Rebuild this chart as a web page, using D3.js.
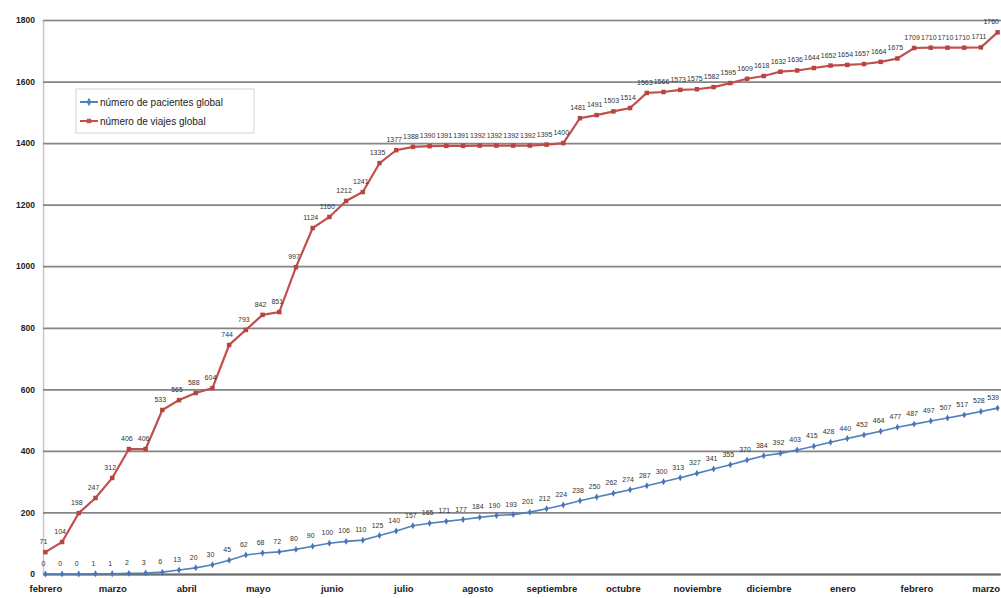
<!DOCTYPE html>
<html>
<head>
<meta charset="utf-8">
<script src="https://cdn.jsdelivr.net/npm/d3@7"></script>
<style>
  body { margin: 0; background: #fff; }
  svg { display: block; }
  text { font-family: "Liberation Sans", Arial, sans-serif; }
</style>
</head>
<body>
<svg id="chart" width="1001" height="598"></svg>
<script>
// Weekly totals, first week starting 1 Feb 2007
const firstWeek = "2007-02-01";
const monthLabels = ["febrero", "marzo", "abril", "mayo", "junio", "julio", "agosto",
  "septiembre", "octubre", "noviembre", "diciembre", "enero", "febrero", "marzo"];
const yTicks = [0, 200, 400, 600, 800, 1000, 1200, 1400, 1600, 1800];
const seriesNames = ["número de pacientes global", "número de viajes global"];

const pacientes = [0, 0, 0, 1, 1, 2, 3, 6, 13, 20, 30, 45, 62, 68, 72, 80, 90, 100, 106, 110,
  125, 140, 157, 165, 171, 177, 184, 190, 193, 201, 212, 224, 238, 250, 262, 274, 287, 300,
  313, 327, 341, 355, 370, 384, 392, 403, 415, 428, 440, 452, 464, 477, 487, 497, 507, 517,
  528, 539];

const viajes = [71, 104, 198, 247, 312, 406, 406, 533, 565, 588, 604, 744, 793, 842, 851,
  997, 1124, 1160, 1212, 1241, 1335, 1377, 1388, 1390, 1391, 1391, 1392, 1392, 1392, 1392,
  1395, 1400, 1481, 1491, 1503, 1514, 1563, 1566, 1573, 1575, 1582, 1595, 1609, 1618, 1632,
  1636, 1644, 1652, 1654, 1657, 1664, 1675, 1709, 1710, 1710, 1710, 1711, 1760];

const colors = ["#4f81bd", "#c0504d"];

const W = 1001;
const svg = d3.select("#chart");
const plot = { left: 43, right: 1000, top: 20, bottom: 574 };

const start = d3.timeParse("%Y-%m-%d")(firstWeek);
const weeks = pacientes.map((_, i) => d3.timeDay.offset(start, 7 * i));

const x = d3.scaleTime()
  .domain([d3.timeDay.offset(weeks[0], -1), d3.timeDay.offset(weeks[weeks.length - 1], 1)])
  .range([plot.left, plot.right]);
const y = d3.scaleLinear().domain([0, 1800]).range([plot.bottom, plot.top]);

// Horizontal gridlines and value labels
const yAxis = svg.append("g")
  .attr("transform", `translate(${plot.left},0)`)
  .call(d3.axisLeft(y).tickValues(yTicks).tickFormat(d3.format("d"))
    .tickSize(-(W - plot.left)).tickPadding(8));
yAxis.select(".domain").attr("stroke", "#c8c8c8").attr("stroke-width", 1.5);
yAxis.selectAll(".tick line").attr("stroke", "#858585").attr("stroke-width", 1.7);
yAxis.selectAll(".tick text").attr("font-size", 8.5).attr("font-weight", "bold").attr("fill", "#222");

// Month labels along the bottom
const monthStarts = d3.timeMonth.range(d3.timeMonth.ceil(weeks[0]), d3.timeDay.offset(weeks[weeks.length - 1], 1));
const xAxis = svg.append("g")
  .attr("transform", `translate(0,${plot.bottom})`)
  .call(d3.axisBottom(x).tickValues(monthStarts)
    .tickFormat((d, i) => monthLabels[i]).tickSize(0).tickPadding(11));
xAxis.select(".domain").attr("stroke", "#6e6e6e").attr("stroke-width", 1.8);
xAxis.selectAll(".tick text").attr("font-size", 9.5).attr("font-weight", "bold").attr("fill", "#222");

// Series lines, markers and point labels
const series = [pacientes, viajes];
series.forEach((vals, s) => {
  const pts = vals.map((v, i) => ({ d: weeks[i], v }));
  const line = d3.line().x(p => x(p.d)).y(p => y(p.v));
  svg.append("path").datum(pts)
    .attr("fill", "none")
    .attr("stroke", colors[s])
    .attr("stroke-width", s === 1 ? 2.2 : 1.6)
    .attr("d", line);

  const sym = d3.symbol().type(s === 0 ? d3.symbolDiamond : d3.symbolSquare).size(s === 0 ? 14 : 20);
  svg.append("g").selectAll("path").data(pts).join("path")
    .attr("transform", p => `translate(${x(p.d)},${y(p.v)})`)
    .attr("d", sym)
    .attr("fill", s === 0 ? "#4a74b8" : "#b8433f")
    .attr("stroke", "none");

  // labels near the right edge are right-aligned so they stay inside the frame
  svg.append("g").selectAll("text").data(pts).join("text")
    .attr("x", p => x(p.d) > W - 12 ? W - 2 : x(p.d) - 2)
    .attr("y", p => y(p.v) - 8)
    .attr("text-anchor", p => x(p.d) > W - 12 ? "end" : "middle")
    .attr("font-size", 7)
    .attr("fill", "#333")
    .text(p => p.v);
});

// Legend
const lg = svg.append("g").attr("transform", "translate(76,89)");
lg.append("rect").attr("width", 178).attr("height", 44)
  .attr("fill", "#fff").attr("stroke", "#d4d4d4").attr("stroke-width", 1);
seriesNames.forEach((name, s) => {
  const row = lg.append("g").attr("transform", `translate(4,${13 + s * 19})`);
  row.append("line").attr("x1", 0).attr("x2", 18).attr("y1", 0).attr("y2", 0)
    .attr("stroke", colors[s]).attr("stroke-width", 2);
  row.append("path").attr("transform", "translate(9,0)")
    .attr("d", d3.symbol().type(s === 0 ? d3.symbolDiamond : d3.symbolSquare).size(20))
    .attr("fill", colors[s]);
  row.append("text").attr("x", 20).attr("y", 3.5)
    .attr("font-size", 10).attr("fill", "#222").text(name);
});
</script>
</body>
</html>
